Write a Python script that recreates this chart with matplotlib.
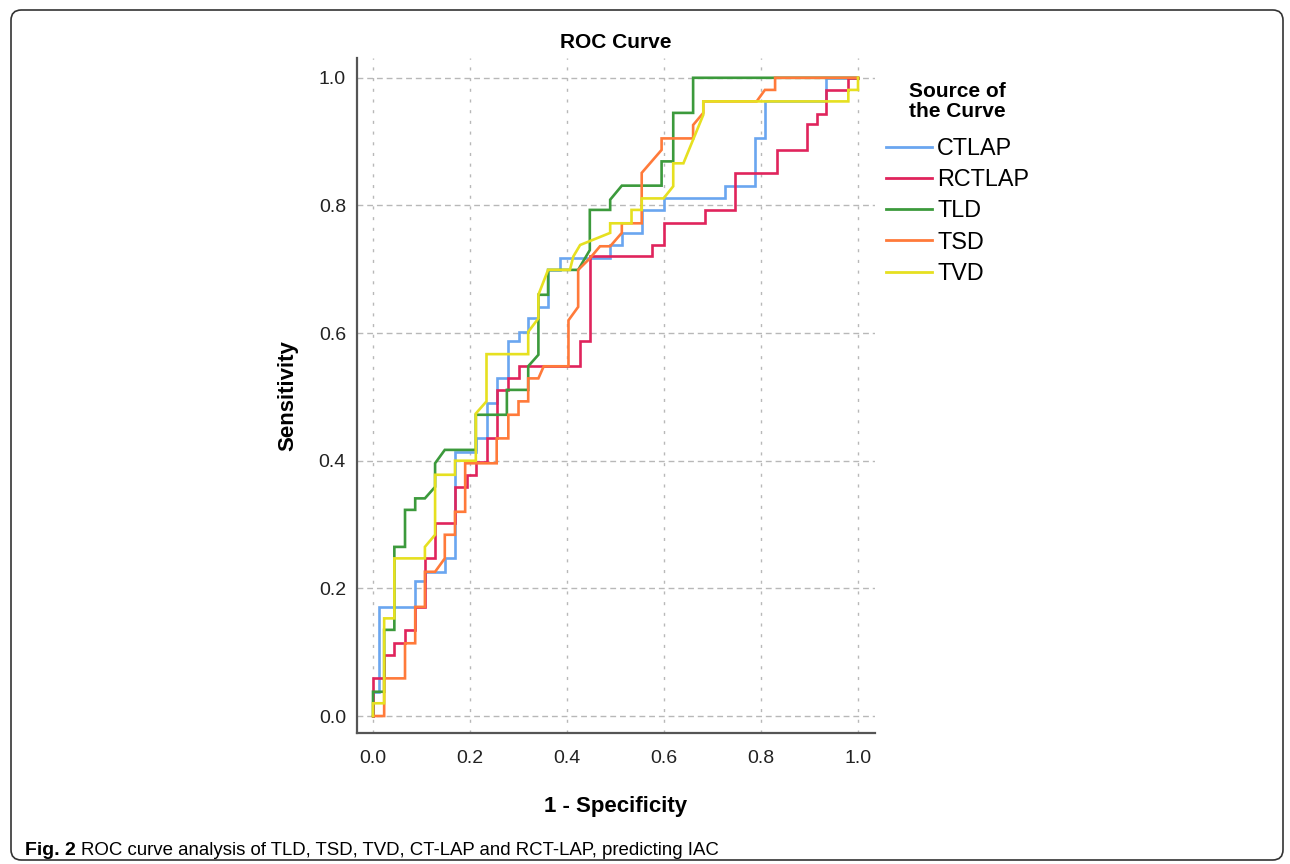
import matplotlib
matplotlib.use("Agg")
import matplotlib.pyplot as plt
from matplotlib.patches import FancyBboxPatch

plt.rcParams['font.family'] = ['Liberation Sans', 'DejaVu Sans']

# ---------------- data ----------------
series_names = ["CTLAP", "RCTLAP", "TLD", "TSD", "TVD"]
series_colors = ["#6AA6F0", "#E0245C", "#3C9A3C", "#FF7A3A", "#E6E020"]

ctlap_fpr = [0, 0, 0.012, 0.012, 0.087, 0.087, 0.107, 0.107, 0.148, 0.148, 0.169, 0.169,
             0.212, 0.212, 0.234, 0.234, 0.255, 0.255, 0.279, 0.279, 0.30, 0.30, 0.320, 0.320,
             0.341, 0.341, 0.361, 0.361, 0.386, 0.386, 0.489, 0.489, 0.513, 0.513, 0.554, 0.554,
             0.599, 0.599, 0.726, 0.726, 0.788, 0.788, 0.808, 0.808, 0.935, 0.935, 1.0]
ctlap_tpr = [0, 0.038, 0.038, 0.171, 0.171, 0.211, 0.211, 0.226, 0.226, 0.247, 0.247, 0.414,
             0.414, 0.435, 0.435, 0.490, 0.490, 0.529, 0.529, 0.587, 0.587, 0.602, 0.602, 0.623,
             0.623, 0.641, 0.641, 0.699, 0.699, 0.717, 0.717, 0.738, 0.738, 0.757, 0.757, 0.793,
             0.793, 0.811, 0.811, 0.831, 0.831, 0.905, 0.905, 0.963, 0.963, 1.0, 1.0]

rctlap_fpr = [0, 0, 0.023, 0.023, 0.044, 0.044, 0.066, 0.066, 0.087, 0.087, 0.107, 0.107,
              0.128, 0.128, 0.169, 0.169, 0.193, 0.193, 0.212, 0.212, 0.234, 0.234, 0.255, 0.255,
              0.279, 0.279, 0.30, 0.30, 0.427, 0.427, 0.447, 0.447, 0.575, 0.575, 0.599, 0.599,
              0.685, 0.685, 0.746, 0.746, 0.832, 0.832, 0.894, 0.894, 0.915, 0.915, 0.935, 0.935,
              0.98, 0.98, 1.0]
rctlap_tpr = [0, 0.059, 0.059, 0.096, 0.096, 0.114, 0.114, 0.135, 0.135, 0.171, 0.171, 0.247,
              0.247, 0.302, 0.302, 0.359, 0.359, 0.378, 0.378, 0.398, 0.398, 0.435, 0.435, 0.511,
              0.511, 0.529, 0.529, 0.548, 0.548, 0.587, 0.587, 0.720, 0.720, 0.738, 0.738, 0.772,
              0.772, 0.793, 0.793, 0.851, 0.851, 0.887, 0.887, 0.928, 0.928, 0.944, 0.944, 0.981,
              0.981, 1.0, 1.0]

tld_fpr = [0, 0, 0.023, 0.023, 0.044, 0.044, 0.066, 0.066, 0.087, 0.087, 0.107, 0.128, 0.128,
           0.148, 0.212, 0.212, 0.276, 0.276, 0.320, 0.320, 0.341, 0.341, 0.361, 0.361, 0.423,
           0.447, 0.447, 0.489, 0.489, 0.513, 0.595, 0.595, 0.619, 0.619, 0.660, 0.660, 1.0]
tld_tpr = [0, 0.038, 0.038, 0.135, 0.135, 0.265, 0.265, 0.323, 0.323, 0.341, 0.341, 0.359, 0.396,
           0.417, 0.417, 0.472, 0.472, 0.511, 0.511, 0.548, 0.566, 0.660, 0.660, 0.699, 0.699,
           0.730, 0.793, 0.793, 0.809, 0.831, 0.831, 0.869, 0.869, 0.945, 0.945, 1.0, 1.0]

tsd_fpr = [0, 0.023, 0.023, 0.066, 0.066, 0.087, 0.087, 0.107, 0.107, 0.128, 0.148, 0.148,
           0.169, 0.169, 0.190, 0.190, 0.255, 0.255, 0.279, 0.279, 0.30, 0.30, 0.320, 0.320,
           0.341, 0.352, 0.403, 0.403, 0.423, 0.423, 0.447, 0.468, 0.489, 0.513, 0.513, 0.554,
           0.554, 0.595, 0.595, 0.660, 0.660, 0.681, 0.681, 0.791, 0.808, 0.829, 0.829, 1.0]
tsd_tpr = [0, 0, 0.059, 0.059, 0.114, 0.114, 0.171, 0.171, 0.226, 0.226, 0.247, 0.284,
           0.284, 0.320, 0.320, 0.396, 0.396, 0.435, 0.435, 0.472, 0.472, 0.493, 0.493, 0.529,
           0.529, 0.548, 0.548, 0.620, 0.641, 0.699, 0.717, 0.736, 0.736, 0.757, 0.772, 0.772,
           0.851, 0.887, 0.905, 0.905, 0.926, 0.945, 0.963, 0.963, 0.981, 0.981, 1.0, 1.0]

tvd_fpr = [0, 0, 0.023, 0.023, 0.044, 0.044, 0.107, 0.107, 0.128, 0.128, 0.169, 0.169, 0.212,
           0.212, 0.234, 0.234, 0.320, 0.320, 0.341, 0.341, 0.361, 0.406, 0.413, 0.427, 0.489,
           0.489, 0.533, 0.533, 0.554, 0.554, 0.599, 0.619, 0.619, 0.640, 0.681, 0.681, 0.980,
           0.980, 1.0, 1.0]
tvd_tpr = [0, 0.020, 0.020, 0.153, 0.153, 0.247, 0.247, 0.265, 0.284, 0.378, 0.378, 0.400, 0.400,
           0.474, 0.493, 0.567, 0.567, 0.602, 0.623, 0.660, 0.699, 0.699, 0.720, 0.738, 0.757,
           0.772, 0.772, 0.793, 0.793, 0.811, 0.811, 0.830, 0.866, 0.866, 0.942, 0.963, 0.963,
           0.981, 0.981, 1.0]

series_fpr = [ctlap_fpr, rctlap_fpr, tld_fpr, tsd_fpr, tvd_fpr]
series_tpr = [ctlap_tpr, rctlap_tpr, tld_tpr, tsd_tpr, tvd_tpr]

tick_values = [0.0, 0.2, 0.4, 0.6, 0.8, 1.0]
tick_labels = ["0.0", "0.2", "0.4", "0.6", "0.8", "1.0"]

title_text = "ROC Curve"
xlabel_text = "1 - Specificity"
ylabel_text = "Sensitivity"
legend_title = "Source of\nthe Curve"
caption_bold = "Fig. 2"
caption_rest = "ROC curve analysis of TLD, TSD, TVD, CT-LAP and RCT-LAP, predicting IAC"

# ---------------- figure ----------------
W, H = 1290, 864
fig = plt.figure(figsize=(W / 100, H / 100), dpi=100)
fig.patch.set_facecolor("white")

# outer rounded frame
frame = FancyBboxPatch((11 / W, 4 / H), (1283 - 11) / W, (854 - 4) / H,
                       boxstyle="round,pad=0,rounding_size=0.008",
                       transform=fig.transFigure, fill=False,
                       edgecolor="#333333", linewidth=1.2, mutation_aspect=W / H)
fig.patches.append(frame)

ax_l, ax_r, ax_t, ax_b = 357, 875, 58, 733
ax = fig.add_axes([ax_l / W, 1 - ax_b / H, (ax_r - ax_l) / W, (ax_b - ax_t) / H])

for name, col, fx, ty in zip(series_names, series_colors, series_fpr, series_tpr):
    ax.plot(fx, ty, color=col, linewidth=1.9, label=name, solid_joinstyle="miter")

ax.set_xlim(-0.033, 1.035)
ax.set_ylim(-0.0266, 1.031)
ax.set_xticks(tick_values)
ax.set_xticklabels(tick_labels)
ax.set_yticks(tick_values)
ax.set_yticklabels(tick_labels)
ax.tick_params(axis="both", length=0, labelsize=14, colors="#222222")
ax.tick_params(axis="x", pad=12.5)
ax.tick_params(axis="y", pad=8)

ax.xaxis.grid(True, color="#B8B8B8", linewidth=1.0, linestyle=(0, (2.2, 5.5)))
ax.yaxis.grid(True, color="#B8B8B8", linewidth=1.0, linestyle=(0, (4.2, 2.8)))
ax.set_axisbelow(True)

for s in ["top", "right"]:
    ax.spines[s].set_visible(False)
for s in ["left", "bottom"]:
    ax.spines[s].set_color("#555555")
    ax.spines[s].set_linewidth(1.6)

ax.set_title(title_text, fontsize=15, fontweight="bold", pad=7)
ax.set_xlabel(xlabel_text, fontsize=16, fontweight="bold")
ax.xaxis.set_label_coords(0.5, -0.094)
ax.set_ylabel(ylabel_text, fontsize=16, fontweight="bold")
ax.yaxis.set_label_coords(-0.113, 0.5)

leg = ax.legend(loc="upper left", bbox_to_anchor=(886 / W, 1 - 82 / H),
                bbox_transform=fig.transFigure, frameon=False, fontsize=16.8,
                title=legend_title, title_fontsize=15, handlelength=1.97,
                handletextpad=0.22, labelspacing=0.355, borderpad=0, borderaxespad=0)
leg.get_title().set_fontweight("bold")
leg.get_title().set_multialignment("center")
leg.get_title().set_linespacing(1.05)
leg._legend_box.sep = 11.5
for h in leg.get_lines():
    h.set_linewidth(2.0)

t1 = fig.text(25 / W, 1 - 855 / H, caption_bold, fontsize=14, fontweight="bold",
              ha="left", va="baseline")
ax.annotate(caption_rest, xy=(1, 0), xycoords=t1, xytext=(4, 0),
            textcoords="offset points", fontsize=13.4, ha="left", va="bottom",
            annotation_clip=False)

fig.savefig("out.png", dpi=100, facecolor="white")
